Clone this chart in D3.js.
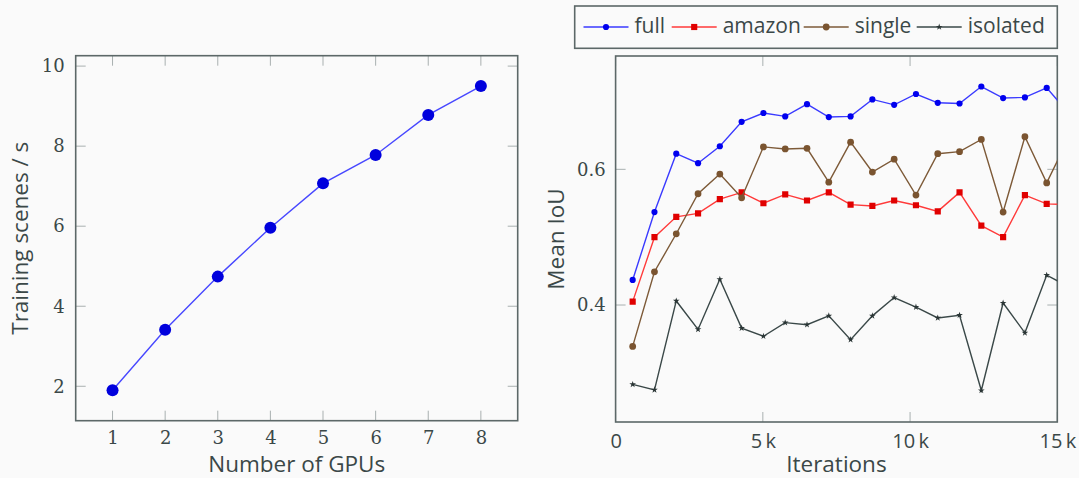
<!DOCTYPE html>
<html>
<head>
<meta charset="utf-8">
<script src="https://cdn.jsdelivr.net/npm/d3@7"></script>
<style>
	body { margin: 0; background: #fafafa; }
	svg { display: block; background: #fafafa; }
</style>
</head>
<body>
<svg width="1079" height="478"></svg>
<script>
// left panel: throughput vs GPUs
const gpus = [1, 2, 3, 4, 5, 6, 7, 8];
const scenesPerSec = [1.9, 3.41, 4.74, 5.96, 7.07, 7.78, 8.78, 9.5];
const gpuTicks = [1, 2, 3, 4, 5, 6, 7, 8];
const scenesTicks = [2, 4, 6, 8, 10];

// right panel: mean IoU vs iterations
const iterations = [580, 1320, 2060, 2800, 3540, 4280, 5020, 5760, 6500, 7240,
	7980, 8720, 9460, 10200, 10940, 11680, 12420, 13160, 13900, 14640, 15380];
const iouFull = [0.437, 0.537, 0.623, 0.609, 0.634, 0.670, 0.683, 0.678, 0.696, 0.677,
	0.678, 0.703, 0.695, 0.711, 0.698, 0.697, 0.722, 0.705, 0.706, 0.720, 0.683];
const iouAmazon = [0.405, 0.500, 0.530, 0.535, 0.556, 0.566, 0.550, 0.563, 0.554, 0.566,
	0.548, 0.546, 0.554, 0.547, 0.538, 0.566, 0.517, 0.500, 0.562, 0.549, 0.548];
const iouSingle = [0.339, 0.449, 0.505, 0.564, 0.593, 0.558, 0.633, 0.630, 0.631, 0.581,
	0.640, 0.596, 0.615, 0.562, 0.623, 0.626, 0.644, 0.537, 0.648, 0.580, 0.646];
const iouIsolated = [0.283, 0.275, 0.406, 0.364, 0.438, 0.366, 0.354, 0.374, 0.371, 0.384,
	0.349, 0.384, 0.411, 0.397, 0.381, 0.385, 0.274, 0.403, 0.359, 0.444, 0.427];
const seriesNames = ["full", "amazon", "single", "isolated"];
const iterTicks = [0, 5000, 10000, 15000];
const iterTickLabels = ["0", "5\u2009k", "10\u2009k", "15\u2009k"];
const iouTicks = [0.4, 0.6];

const textColor = "#3b4848";
const frameColor = "#5c6868";
const tickColor = "#a9b0b0";
const sans = "'Open Sans', sans-serif";
const serif = "'DejaVu Serif', serif";

const svg = d3.select("svg");

// draws the mirrored inward ticks + frame for one panel
function drawFrame(g, x, y, xTicks, yTicks) {
	const [x0, x1] = x.range();
	const [y0, y1] = y.range();
	const ticks = g.append("g").attr("stroke", tickColor).attr("stroke-width", 1);
	xTicks.forEach((t) => {
		ticks.append("line").attr("x1", x(t)).attr("x2", x(t)).attr("y1", y0).attr("y2", y0 - 10);
		ticks.append("line").attr("x1", x(t)).attr("x2", x(t)).attr("y1", y1).attr("y2", y1 + 10);
	});
	yTicks.forEach((t) => {
		ticks.append("line").attr("y1", y(t)).attr("y2", y(t)).attr("x1", x0).attr("x2", x0 + 10);
		ticks.append("line").attr("y1", y(t)).attr("y2", y(t)).attr("x1", x1).attr("x2", x1 - 10);
	});
	g.append("rect")
		.attr("x", x0)
		.attr("y", y1)
		.attr("width", x1 - x0)
		.attr("height", y0 - y1)
		.attr("fill", "none")
		.attr("stroke", frameColor)
		.attr("stroke-width", 1.6);
}

// ---------------- left panel ----------------
const xL = d3.scaleLinear().domain([0.3, 8.7]).range([75.7, 517.7]);
const yL = d3.scaleLinear().domain([1.14, 10.26]).range([420.7, 55.7]);
const left = svg.append("g").attr("id", "left");

drawFrame(left, xL, yL, gpuTicks, scenesTicks);

left.append("g")
	.attr("transform", "translate(0," + yL.range()[0] + ")")
	.call(d3.axisBottom(xL).tickValues(gpuTicks).tickSize(0).tickPadding(11))
	.call((g) => g.select(".domain").remove())
	.selectAll("text")
	.attr("fill", textColor)
	.attr("font-family", serif)
	.attr("font-size", 18);

left.append("g")
	.attr("transform", "translate(" + xL.range()[0] + ",0)")
	.call(d3.axisLeft(yL).tickValues(scenesTicks).tickSize(0).tickPadding(11))
	.call((g) => g.select(".domain").remove())
	.selectAll("text")
	.attr("fill", textColor)
	.attr("font-family", serif)
	.attr("font-size", 18);

left.append("path")
	.datum(gpus)
	.attr("fill", "none")
	.attr("stroke", "#4747ff")
	.attr("stroke-width", 1.4)
	.attr("d", d3.line().x((d) => xL(d)).y((d, i) => yL(scenesPerSec[i])));

left.append("g")
	.selectAll("circle")
	.data(gpus)
	.join("circle")
	.attr("cx", (d) => xL(d))
	.attr("cy", (d, i) => yL(scenesPerSec[i]))
	.attr("r", 6)
	.attr("fill", "#0000dd");

left.append("text")
	.attr("x", (xL.range()[0] + xL.range()[1]) / 2)
	.attr("y", 472)
	.attr("text-anchor", "middle")
	.attr("fill", textColor)
	.attr("font-family", sans)
	.attr("font-size", 22.5)
	.text("Number of GPUs");

left.append("text")
	.attr("transform", "translate(28," + (yL.range()[0] + yL.range()[1]) / 2 + ") rotate(-90)")
	.attr("text-anchor", "middle")
	.attr("fill", textColor)
	.attr("font-family", sans)
	.attr("font-size", 22.5)
	.text("Training scenes / s");

// ---------------- right panel ----------------
const xR = d3.scaleLinear().domain([0, 15000]).range([615.6, 1057.3]);
const yR = d3.scaleLinear().domain([0.2276, 0.767]).range([422, 56]);
const right = svg.append("g").attr("id", "right");

drawFrame(right, xR, yR, iterTicks, iouTicks);

right.append("g")
	.attr("transform", "translate(0," + yR.range()[0] + ")")
	.call(d3.axisBottom(xR).tickValues(iterTicks).tickFormat((d, i) => iterTickLabels[i]).tickSize(0).tickPadding(12))
	.call((g) => g.select(".domain").remove())
	.selectAll("text")
	.attr("fill", textColor)
	.attr("font-family", sans)
	.attr("font-size", 20);

right.append("g")
	.attr("transform", "translate(" + xR.range()[0] + ",0)")
	.call(d3.axisLeft(yR).tickValues(iouTicks).tickFormat(d3.format(".1f")).tickSize(0).tickPadding(10))
	.call((g) => g.select(".domain").remove())
	.selectAll("text")
	.attr("fill", textColor)
	.attr("font-family", serif)
	.attr("font-size", 18);

svg.append("defs")
	.append("clipPath")
	.attr("id", "clipR")
	.append("rect")
	.attr("x", xR.range()[0])
	.attr("y", yR.range()[1])
	.attr("width", xR.range()[1] - xR.range()[0])
	.attr("height", yR.range()[0] - yR.range()[1]);

const series = [
	{ name: seriesNames[0], values: iouFull, line: "#3a3aff", mark: "#0000ee", symbol: d3.symbolCircle, size: 30 },
	{ name: seriesNames[1], values: iouAmazon, line: "#ff3a3a", mark: "#e00000", symbol: d3.symbolSquare, size: 38 },
	{ name: seriesNames[2], values: iouSingle, line: "#7d5a38", mark: "#7a5430", symbol: d3.symbolCircle, size: 36 },
	{ name: seriesNames[3], values: iouIsolated, line: "#3a4848", mark: "#2a3535", symbol: d3.symbolStar, size: 14 },
];

const plot = right.append("g").attr("clip-path", "url(#clipR)");
series.forEach((s) => {
	plot.append("path")
		.datum(iterations)
		.attr("fill", "none")
		.attr("stroke", s.line)
		.attr("stroke-width", 1.4)
		.attr("d", d3.line().x((d) => xR(d)).y((d, i) => yR(s.values[i])));
	plot.append("g")
		.selectAll("path")
		.data(iterations)
		.join("path")
		.attr("transform", (d, i) => "translate(" + xR(d) + "," + yR(s.values[i]) + ")")
		.attr("d", d3.symbol().type(s.symbol).size(s.size))
		.attr("fill", s.mark);
});

right.append("text")
	.attr("x", (xR.range()[0] + xR.range()[1]) / 2)
	.attr("y", 472)
	.attr("text-anchor", "middle")
	.attr("fill", textColor)
	.attr("font-family", sans)
	.attr("font-size", 22.5)
	.text("Iterations");

right.append("text")
	.attr("transform", "translate(564," + (yR.range()[0] + yR.range()[1]) / 2 + ") rotate(-90)")
	.attr("text-anchor", "middle")
	.attr("fill", textColor)
	.attr("font-family", sans)
	.attr("font-size", 22.5)
	.text("Mean IoU");

// legend
const legend = svg.append("g").attr("id", "legend");
legend.append("rect")
	.attr("x", 574.7)
	.attr("y", 6)
	.attr("width", 482.6)
	.attr("height", 42.3)
	.attr("fill", "#fafafa")
	.attr("stroke", frameColor)
	.attr("stroke-width", 1.6);

const legendX = [583.5, 671.7, 803.7, 916.7];
series.forEach((s, i) => {
	const lx = legendX[i];
	const item = legend.append("g").attr("transform", "translate(" + lx + ",27)");
	item.append("line")
		.attr("x1", 0)
		.attr("x2", 45)
		.attr("stroke", s.line)
		.attr("stroke-width", 1.4);
	item.append("path")
		.attr("transform", "translate(22.5,0)")
		.attr("d", d3.symbol().type(s.symbol).size(s.size))
		.attr("fill", s.mark);
	item.append("text")
		.attr("x", 51)
		.attr("y", 6)
		.attr("fill", textColor)
		.attr("font-family", sans)
		.attr("font-size", 21)
		.text(s.name);
});
</script>
</body>
</html>
